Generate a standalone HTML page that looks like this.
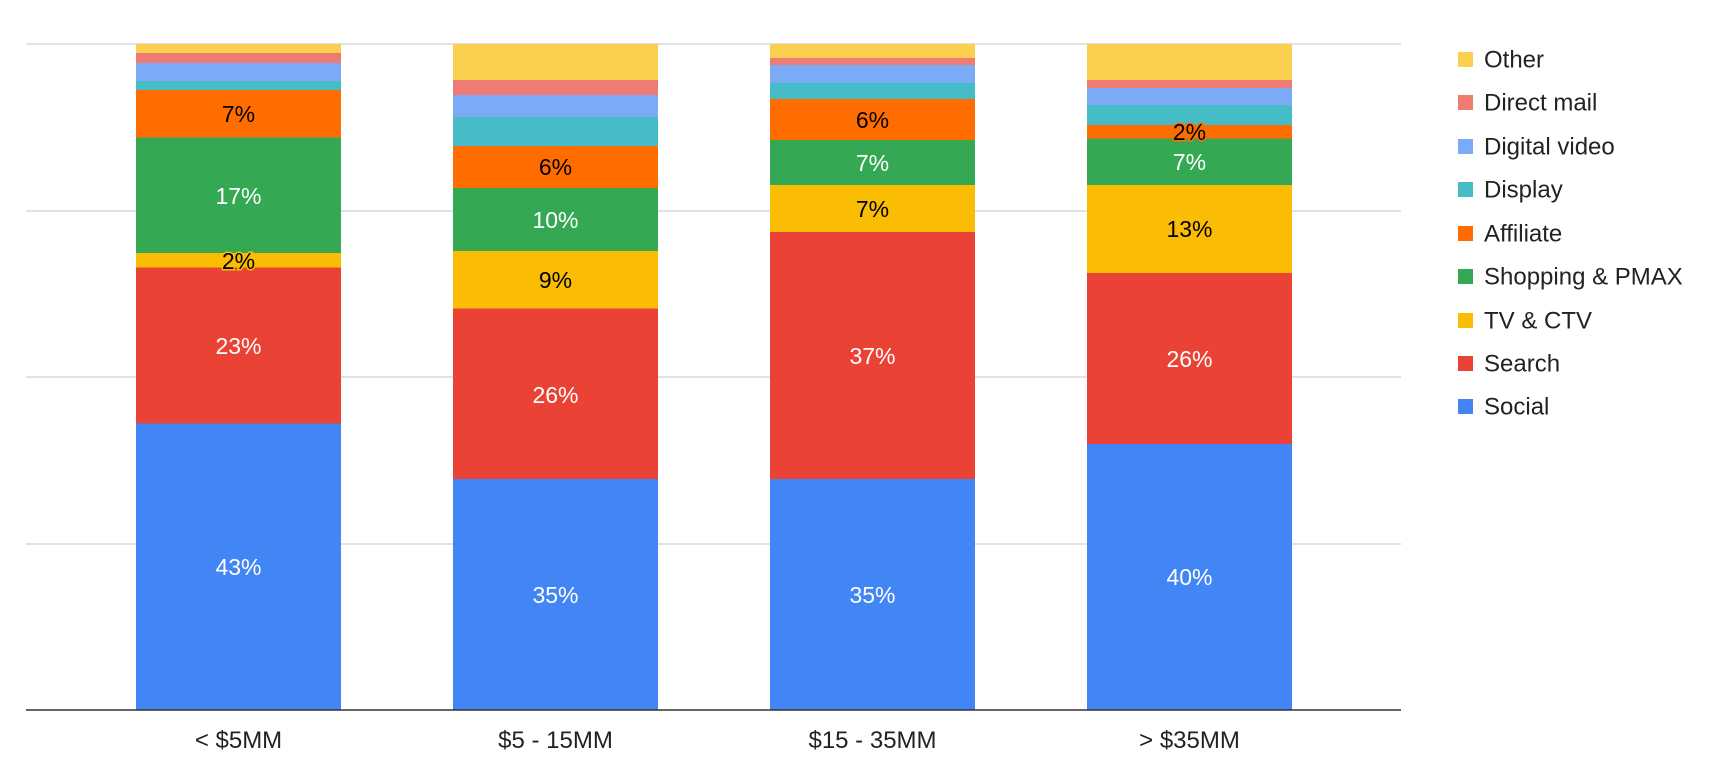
<!DOCTYPE html>
<html><head><meta charset="utf-8"><style>html,body{margin:0;padding:0;background:#fff}svg{display:block}</style></head>
<body>
<svg width="1710" height="776" viewBox="0 0 1710 776" xmlns="http://www.w3.org/2000/svg" font-family="Liberation Sans, Arial, sans-serif">
<g stroke="#d9d9d9" stroke-width="1.5">
<line x1="26" y1="44" x2="1401" y2="44"/>
<line x1="26" y1="211" x2="1401" y2="211"/>
<line x1="26" y1="377" x2="1401" y2="377"/>
<line x1="26" y1="544" x2="1401" y2="544"/>
</g>
<!-- Bar 1 -->
<g>
<rect x="136" y="44" width="205" height="9" fill="#fcd04f"/>
<rect x="136" y="53" width="205" height="10" fill="#f07b72"/>
<rect x="136" y="63" width="205" height="18" fill="#7baaf7"/>
<rect x="136" y="81" width="205" height="9" fill="#46bdc6"/>
<rect x="136" y="90" width="205" height="47.5" fill="#ff6d01"/>
<rect x="136" y="137.5" width="205" height="115.5" fill="#34a853"/>
<rect x="136" y="253" width="205" height="14.5" fill="#fbbc04"/>
<rect x="136" y="267.5" width="205" height="156" fill="#ea4335"/>
<rect x="136" y="423.5" width="205" height="286.5" fill="#4285f4"/>
</g>
<!-- Bar 2 -->
<g>
<rect x="453" y="44" width="205" height="36" fill="#fcd04f"/>
<rect x="453" y="80" width="205" height="15" fill="#f07b72"/>
<rect x="453" y="95" width="205" height="22" fill="#7baaf7"/>
<rect x="453" y="117" width="205" height="29" fill="#46bdc6"/>
<rect x="453" y="146" width="205" height="42" fill="#ff6d01"/>
<rect x="453" y="188" width="205" height="63" fill="#34a853"/>
<rect x="453" y="251" width="205" height="57.5" fill="#fbbc04"/>
<rect x="453" y="308.5" width="205" height="170.5" fill="#ea4335"/>
<rect x="453" y="479" width="205" height="231" fill="#4285f4"/>
</g>
<!-- Bar 3 -->
<g>
<rect x="770" y="44" width="205" height="14" fill="#fcd04f"/>
<rect x="770" y="58" width="205" height="7" fill="#f07b72"/>
<rect x="770" y="65" width="205" height="18" fill="#7baaf7"/>
<rect x="770" y="83" width="205" height="16" fill="#46bdc6"/>
<rect x="770" y="99" width="205" height="41" fill="#ff6d01"/>
<rect x="770" y="140" width="205" height="45" fill="#34a853"/>
<rect x="770" y="185" width="205" height="47" fill="#fbbc04"/>
<rect x="770" y="232" width="205" height="247" fill="#ea4335"/>
<rect x="770" y="479" width="205" height="231" fill="#4285f4"/>
</g>
<!-- Bar 4 -->
<g>
<rect x="1087" y="44" width="205" height="36" fill="#fcd04f"/>
<rect x="1087" y="80" width="205" height="8" fill="#f07b72"/>
<rect x="1087" y="88" width="205" height="17" fill="#7baaf7"/>
<rect x="1087" y="105" width="205" height="20" fill="#46bdc6"/>
<rect x="1087" y="125" width="205" height="13.5" fill="#ff6d01"/>
<rect x="1087" y="138.5" width="205" height="46.5" fill="#34a853"/>
<rect x="1087" y="185" width="205" height="88" fill="#fbbc04"/>
<rect x="1087" y="273" width="205" height="171" fill="#ea4335"/>
<rect x="1087" y="444" width="205" height="266" fill="#4285f4"/>
</g>
<line x1="26" y1="710" x2="1401" y2="710" stroke="#333" stroke-width="1.5"/>
<g font-size="23" text-anchor="middle" dominant-baseline="central">
<text x="238.5" y="114" fill="#000">7%</text>
<text x="238.5" y="196" fill="#fff">17%</text>
<text x="238.5" y="261" fill="#000" stroke="#fbbc04" stroke-width="3" paint-order="stroke">2%</text>
<text x="238.5" y="346" fill="#fff">23%</text>
<text x="238.5" y="567" fill="#fff">43%</text>
<text x="555.5" y="167" fill="#000">6%</text>
<text x="555.5" y="220" fill="#fff">10%</text>
<text x="555.5" y="280" fill="#000">9%</text>
<text x="555.5" y="395" fill="#fff">26%</text>
<text x="555.5" y="595" fill="#fff">35%</text>
<text x="872.5" y="120" fill="#000">6%</text>
<text x="872.5" y="163" fill="#fff">7%</text>
<text x="872.5" y="209" fill="#000">7%</text>
<text x="872.5" y="356" fill="#fff">37%</text>
<text x="872.5" y="595" fill="#fff">35%</text>
<text x="1189.5" y="132" fill="#000" stroke="#ff6d01" stroke-width="3" paint-order="stroke">2%</text>
<text x="1189.5" y="162" fill="#fff">7%</text>
<text x="1189.5" y="229" fill="#000">13%</text>
<text x="1189.5" y="359" fill="#fff">26%</text>
<text x="1189.5" y="577" fill="#fff">40%</text>
</g>
<g font-size="24" text-anchor="middle" fill="#222">
<text x="238.5" y="748">&lt; $5MM</text>
<text x="555.5" y="748">$5 - 15MM</text>
<text x="872.5" y="748">$15 - 35MM</text>
<text x="1189.5" y="748">&gt; $35MM</text>
</g>
<g font-size="24" fill="#222" dominant-baseline="central">
<rect x="1458" y="52" width="15" height="15" fill="#fcd04f"/><text x="1484" y="60">Other</text>
<rect x="1458" y="95" width="15" height="15" fill="#f07b72"/><text x="1484" y="103">Direct mail</text>
<rect x="1458" y="139" width="15" height="15" fill="#7baaf7"/><text x="1484" y="147">Digital video</text>
<rect x="1458" y="182" width="15" height="15" fill="#46bdc6"/><text x="1484" y="190">Display</text>
<rect x="1458" y="226" width="15" height="15" fill="#ff6d01"/><text x="1484" y="234">Affiliate</text>
<rect x="1458" y="269" width="15" height="15" fill="#34a853"/><text x="1484" y="277">Shopping &amp; PMAX</text>
<rect x="1458" y="313" width="15" height="15" fill="#fbbc04"/><text x="1484" y="321">TV &amp; CTV</text>
<rect x="1458" y="356" width="15" height="15" fill="#ea4335"/><text x="1484" y="364">Search</text>
<rect x="1458" y="399" width="15" height="15" fill="#4285f4"/><text x="1484" y="407">Social</text>
</g>
</svg>
</body></html>
